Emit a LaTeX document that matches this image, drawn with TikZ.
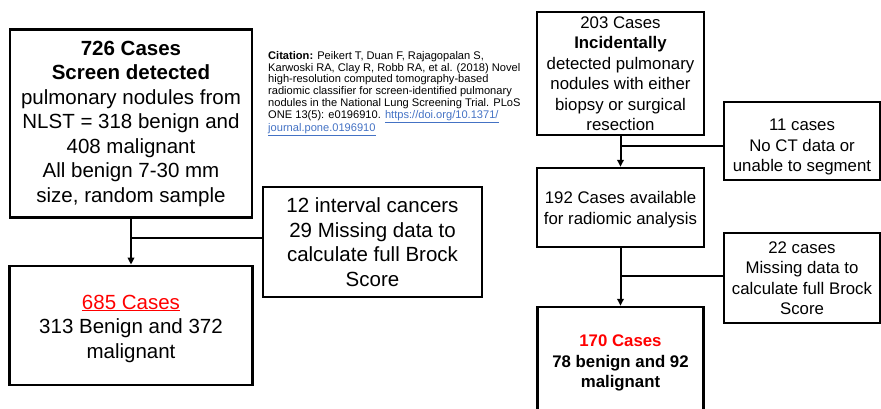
\documentclass[tikz,border=0pt]{standalone}
\usepackage{fontspec}
\setmainfont{Liberation Sans}
\usetikzlibrary{arrows.meta}
\definecolor{redtxt}{RGB}{255,0,0}
\definecolor{linkblue}{RGB}{68,114,196}
\tikzset{
  bigfont/.style={font=\fontsize{20.5}{24.5}\selectfont},
  smallfont/.style={font=\fontsize{16.8}{20.5}\selectfont},
  bigbox/.style={draw=black, line width=2.8pt, align=center, inner sep=0pt, bigfont},
  smallbox/.style={draw=black, line width=2.5pt, align=center, inner sep=0pt, smallfont},
  boxtext/.style={align=center, inner sep=0pt},
  conn/.style={line width=2pt, draw=black},
  arr/.style={conn, -{Triangle[length=7pt,width=6.5pt]}}
}
\begin{document}
\begin{tikzpicture}[x=1pt,y=-1pt]
\useasboundingbox (0,0) rectangle (881,408);
% left column
\node[bigbox, minimum width=242pt, minimum height=188pt] (b1) at (131,123.5)
  {\textbf{726 Cases}\\ \textbf{Screen detected}\\ pulmonary nodules from\\ NLST = 318 benign and\\ 408 malignant\\ All benign 7-30 mm\\ size, random sample};
\node[bigbox, minimum width=243pt, minimum height=119pt] (b2) at (131,325.5) {};
\node[boxtext, bigfont] (b2t) at (131,328.5)
  {\textcolor{redtxt}{\underline{685 Cases}}\\ 313 Benign and 372\\ malignant};
\node[bigbox, minimum width=219pt, minimum height=110pt] (b3) at (372.5,242)
  {12 interval cancers\\ 29 Missing data to\\ calculate full Brock\\ Score};
\coordinate (j1) at (131,238);
\draw[arr] (b1.south) -- (b2.north);
\draw[conn] (b3.west |- j1) -- (j1);
% citation
\node[anchor=north west, inner sep=0pt, align=left, text=black,
  font=\fontsize{11.1}{11.8}\selectfont] (cit) at (268,51)
  {\textbf{Citation:} Peikert T, Duan F, Rajagopalan S,\\
   Karwoski RA, Clay R, Robb RA, et al. (2018) Novel\\
   high-resolution computed tomography-based\\
   radiomic classifier for screen-identified pulmonary\\
   nodules in the National Lung Screening Trial. PLoS\\
   ONE 13(5): e0196910. \textcolor{linkblue}{\underline{https://doi.org/10.1371/}}\\
   \textcolor{linkblue}{\underline{journal.pone.0196910}}};
% right column
\node[smallbox, minimum width=167pt, minimum height=123pt] (r1) at (620.5,73.5)
  {203 Cases\\ \textbf{Incidentally}\\ detected pulmonary\\ nodules with either\\ biopsy or surgical\\ resection};
\node[smallbox, minimum width=156pt, minimum height=78pt] (r2) at (802,141) {};
\node[boxtext, smallfont] (r2t) at (802,147)
  {11 cases\\ No CT data or\\ unable to segment};
\node[smallbox, minimum width=167pt, minimum height=79pt] (r3) at (620.5,207.5) {};
\node[boxtext, smallfont] (r3t) at (620.5,209.5)
  {192 Cases available\\ for radiomic analysis};
\node[smallbox, minimum width=156pt, minimum height=90pt] (r4) at (802,278)
  {22 cases\\ Missing data to\\ calculate full Brock\\ Score};
\node[smallbox, minimum width=166pt, minimum height=106pt] (r5) at (620.5,360) {};
\node[boxtext, smallfont] (r5t) at (620.5,363)
  {\textcolor{redtxt}{\textbf{170 Cases}}\\ \textbf{78 benign and 92}\\ \textbf{malignant}};
\coordinate (j2) at (620.5,146);
\coordinate (j3) at (620.5,276);
\draw[arr] (r1.south) -- (r3.north);
\draw[conn] (r2.west |- j2) -- (j2);
\draw[arr] (r3.south) -- (r5.north);
\draw[conn] (r4.west |- j3) -- (j3);
\end{tikzpicture}
\end{document}
